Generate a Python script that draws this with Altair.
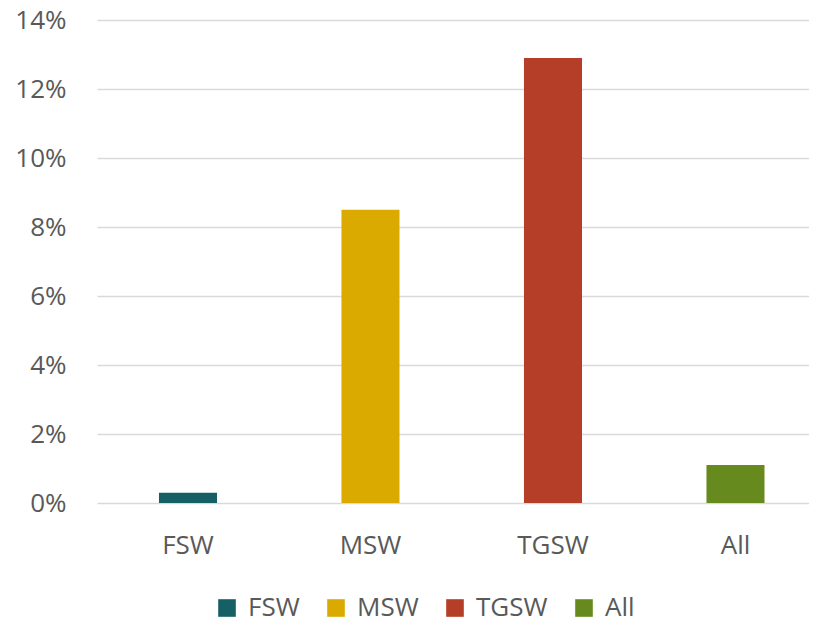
import altair as alt
import pandas as pd

groups = ["FSW", "MSW", "TGSW", "All"]
values = [0.003, 0.085, 0.129, 0.011]
colors = ["#155F65", "#DAAA00", "#B43E27", "#678A1E"]
y_ticks = [0, 0.02, 0.04, 0.06, 0.08, 0.10, 0.12, 0.14]

df = pd.DataFrame({"group": groups, "value": values})

FONT = "Open Sans"
TXT = "#595959"

chart = alt.Chart(df).mark_bar().encode(
    x=alt.X(
        "group:N",
        sort=groups,
        title=None,
        scale=alt.Scale(paddingInner=0.682, paddingOuter=0.2917, align=0.582),
        axis=alt.Axis(labelAngle=0, ticks=False, domain=False, labelFont=FONT,
                      labelFontSize=26, labelColor=TXT, labelPadding=29),
    ),
    y=alt.Y(
        "value:Q",
        title=None,
        scale=alt.Scale(domain=[0, 0.14], nice=False),
        axis=alt.Axis(values=y_ticks, format=".0%", ticks=False, domain=False,
                      gridColor="#D9D9D9", gridWidth=1.5, labelFont=FONT,
                      labelFontSize=26, labelColor=TXT, labelPadding=31),
    ),
    color=alt.Color(
        "group:N",
        scale=alt.Scale(domain=groups, range=colors),
        legend=alt.Legend(title=None, orient="none", direction="horizontal",
                          legendX=117, legendY=575, symbolType="square",
                          symbolSize=310, symbolStrokeWidth=0, labelFont=FONT,
                          labelFontSize=26, labelColor=TXT, labelOffset=8,
                          columnPadding=23),
    ),
).properties(
    width=712,
    height=483,
    padding={"left": 89, "top": 12, "right": 0, "bottom": 124},
    autosize=alt.AutoSizeParams(type="none"),
).configure_view(stroke=None)

chart.save("out.html", embed_options={"renderer": "svg", "actions": False})
